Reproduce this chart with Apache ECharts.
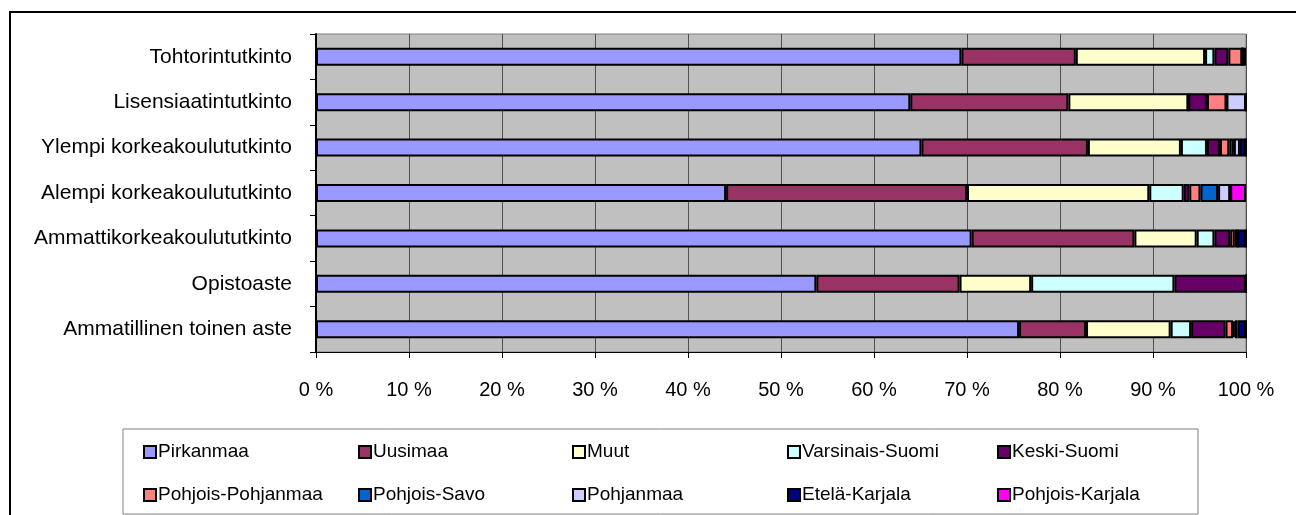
<!DOCTYPE html>
<html>
<head>
<meta charset="utf-8">
<script src="https://cdn.jsdelivr.net/npm/echarts@6/dist/echarts.min.js"></script>
<style>
  html, body { margin: 0; padding: 0; background: #fff; }
  #bar { width: 1296px; height: 515px; }
</style>
</head>
<body>
<div id="bar"></div>
<script>
// 分类（从上到下）
const categories = [
  "Tohtorintutkinto",
  "Lisensiaatintutkinto",
  "Ylempi korkeakoulututkinto",
  "Alempi korkeakoulututkinto",
  "Ammattikorkeakoulututkinto",
  "Opistoaste",
  "Ammatillinen toinen aste",
];

// 各地区占比 (%)，顺序同 categories
const pirkanmaa = [69.4, 63.9, 65.1, 44.1, 70.5, 53.8, 75.6];
const uusimaa = [12.3, 17.0, 17.9, 25.9, 17.5, 15.4, 7.2];
const muut = [13.9, 12.9, 10.0, 19.6, 6.7, 7.7, 9.1];
const varsinaisSuomi = [1.0, 0, 2.8, 3.7, 1.9, 15.4, 2.2];
const keskiSuomi = [1.5, 2.0, 1.4, 0.6, 1.7, 7.7, 3.7];
const pohjoisPohjanmaa = [1.5, 2.1, 1.0, 1.2, 0.5, 0, 0.8];
const pohjoisSavo = [0, 0, 0.5, 1.9, 0.3, 0, 0.2];
const pohjanmaa = [0, 2.1, 0.65, 1.3, 0, 0, 0.3];
const etelaKarjala = [0, 0, 0.65, 0, 0.9, 0, 0.9];
const pohjoisKarjala = [0.4, 0, 0, 1.7, 0, 0, 0];

// x 轴刻度
const xTicks = [0, 10, 20, 30, 40, 50, 60, 70, 80, 90, 100];

const seriesNames = [
  "Pirkanmaa", "Uusimaa", "Muut", "Varsinais-Suomi", "Keski-Suomi",
  "Pohjois-Pohjanmaa", "Pohjois-Savo", "Pohjanmaa", "Etelä-Karjala", "Pohjois-Karjala",
];
const seriesData = [
  pirkanmaa, uusimaa, muut, varsinaisSuomi, keskiSuomi,
  pohjoisPohjanmaa, pohjoisSavo, pohjanmaa, etelaKarjala, pohjoisKarjala,
];
// 柱状图各个颜色
const color = [
  "#9999FF", "#993366", "#FFFFCC", "#CCFFFF", "#660066",
  "#FF8080", "#0066CC", "#CCCCFF", "#000080", "#FF00FF",
];

const font = "'Liberation Sans', Arial, sans-serif";

// 图例：5 列，每列 2 行
const legendLeft = [143, 358, 572, 787, 997];
const legends = legendLeft.map((left, c) => ({
  data: [seriesNames[c], seriesNames[c + 5]],
  orient: "vertical",
  left: left,
  top: 442,
  padding: 0,
  itemGap: 23,
  itemWidth: 12,
  itemHeight: 12,
  icon: "rect",
  selectedMode: false,
  textStyle: {
    color: "#000",
    fontSize: 19,
    lineHeight: 20,
    fontFamily: font,
    padding: [0, 0, 0, -3],
  },
}));

const myChart = echarts.init(document.getElementById("bar"), null, { renderer: "canvas" });

const option = {
  animation: false,
  color: color,
  textStyle: { fontFamily: font },
  graphic: [
    // 外框
    {
      type: "rect",
      shape: { x: 10, y: 12, width: 1300, height: 520 },
      style: { fill: "none", stroke: "#000", lineWidth: 2 },
      silent: true,
    },
    // 图例框
    {
      type: "rect",
      shape: { x: 123, y: 429, width: 1075, height: 85 },
      style: { fill: "none", stroke: "#808080", lineWidth: 1 },
      silent: true,
    },
  ],
  legend: legends,
  grid: {
    left: 316,
    right: 50,
    top: 34,
    bottom: 163,
    show: true,
    backgroundColor: "#C0C0C0",
    borderColor: "#808080",
    borderWidth: 1,
  },
  xAxis: {
    type: "value",
    min: xTicks[0],
    max: xTicks[xTicks.length - 1],
    interval: xTicks[1] - xTicks[0],
    axisLine: { show: true, lineStyle: { color: "#000", width: 1 } },
    axisTick: { show: true, length: 6, lineStyle: { color: "#000" } },
    axisLabel: {
      color: "#000",
      fontSize: 20,
      fontFamily: font,
      margin: 28,
      formatter: "{value} %",
    },
    splitLine: { show: true, lineStyle: { color: "#505050", width: 1 } },
  },
  yAxis: {
    type: "category",
    data: categories,
    inverse: true,
    axisLine: { show: true, lineStyle: { color: "#000", width: 2 } },
    axisTick: { show: true, length: 6, lineStyle: { color: "#000" } },
    axisLabel: {
      color: "#000",
      fontSize: 21,
      fontFamily: font,
      margin: 24,
    },
    splitLine: { show: false },
  },
  series: seriesNames.map((name, i) => ({
    name: name,
    type: "bar",
    stack: "total",
    barWidth: 18, // 柱宽度
    data: seriesData[i],
    itemStyle: {
      color: color[i],
      borderColor: "#000",
      borderWidth: 2,
    },
  })),
};

myChart.setOption(option, true);
</script>
</body>
</html>
